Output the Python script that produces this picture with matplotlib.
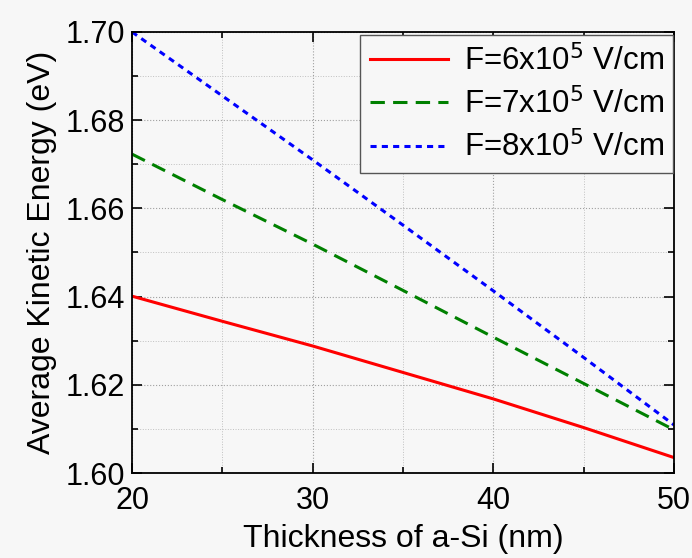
import matplotlib
matplotlib.use("Agg")
import matplotlib.pyplot as plt
from matplotlib.ticker import MultipleLocator, FormatStrFormatter

plt.rcParams['font.family'] = ['Liberation Sans', 'DejaVu Sans']

# thickness of the a-Si layer (nm)
thickness = [20, 25, 30, 35, 40, 45, 50]

# average kinetic energy (eV) for each field strength
ke_6 = [1.6401, 1.6344, 1.6288, 1.6228, 1.6168, 1.6103, 1.6035]
ke_7 = [1.6723, 1.6620, 1.6519, 1.6414, 1.6308, 1.6203, 1.6098]
ke_8 = [1.7000, 1.6855, 1.6710, 1.6562, 1.6413, 1.6262, 1.6109]

labels = [r"F=6x10$^{5}$ V/cm", r"F=7x10$^{5}$ V/cm", r"F=8x10$^{5}$ V/cm"]

bg = '#f7f7f7'
fig = plt.figure(figsize=(6.92, 5.58), dpi=100, facecolor=bg)
ax = fig.add_axes([0.1908, 0.1523, 0.7832, 0.7904], facecolor=bg)

ax.plot(thickness, ke_6, color='#ff0000', lw=2.2, ls='-', label=labels[0])
ax.plot(thickness, ke_7, color='#008000', lw=2.2, dashes=(4.7, 2.7), label=labels[1])
ax.plot(thickness, ke_8, color='#0000ff', lw=2.2, dashes=(2.0, 1.7), label=labels[2])

ax.set_xlim(20, 50)
ax.set_ylim(1.60, 1.70)
ax.xaxis.set_major_locator(MultipleLocator(10))
ax.xaxis.set_minor_locator(MultipleLocator(5))
ax.yaxis.set_major_locator(MultipleLocator(0.02))
ax.yaxis.set_minor_locator(MultipleLocator(0.01))
ax.yaxis.set_major_formatter(FormatStrFormatter('%.2f'))

ax.grid(which='major', color='#a0a0a0', ls=':', lw=0.8)
ax.grid(which='minor', color='#c0c0c0', ls=':', lw=0.7)
ax.set_axisbelow(True)

ax.tick_params(which='both', direction='in', top=True, right=True, width=1.2,
               labelsize=22)
ax.tick_params(which='major', length=7)
ax.tick_params(which='minor', length=4)
ax.tick_params(axis='x', which='major', pad=9)
ax.tick_params(axis='y', which='major', pad=5)
for s in ax.spines.values():
    s.set_linewidth(1.3)

ax.set_xlabel("Thickness of a-Si (nm)", fontsize=23, labelpad=6)
ax.set_ylabel("Average Kinetic Energy (eV)", fontsize=23, labelpad=6)

leg = ax.legend(loc='upper right', bbox_to_anchor=(0.998, 0.993), borderaxespad=0,
                fontsize=22.5, handlelength=2.5, fancybox=False, framealpha=1,
                edgecolor='#555555', facecolor=bg, labelspacing=0.35,
                borderpad=0.3, handletextpad=0.5)
leg.get_frame().set_linewidth(1.0)

fig.savefig("out.png", dpi=100, facecolor=bg)
